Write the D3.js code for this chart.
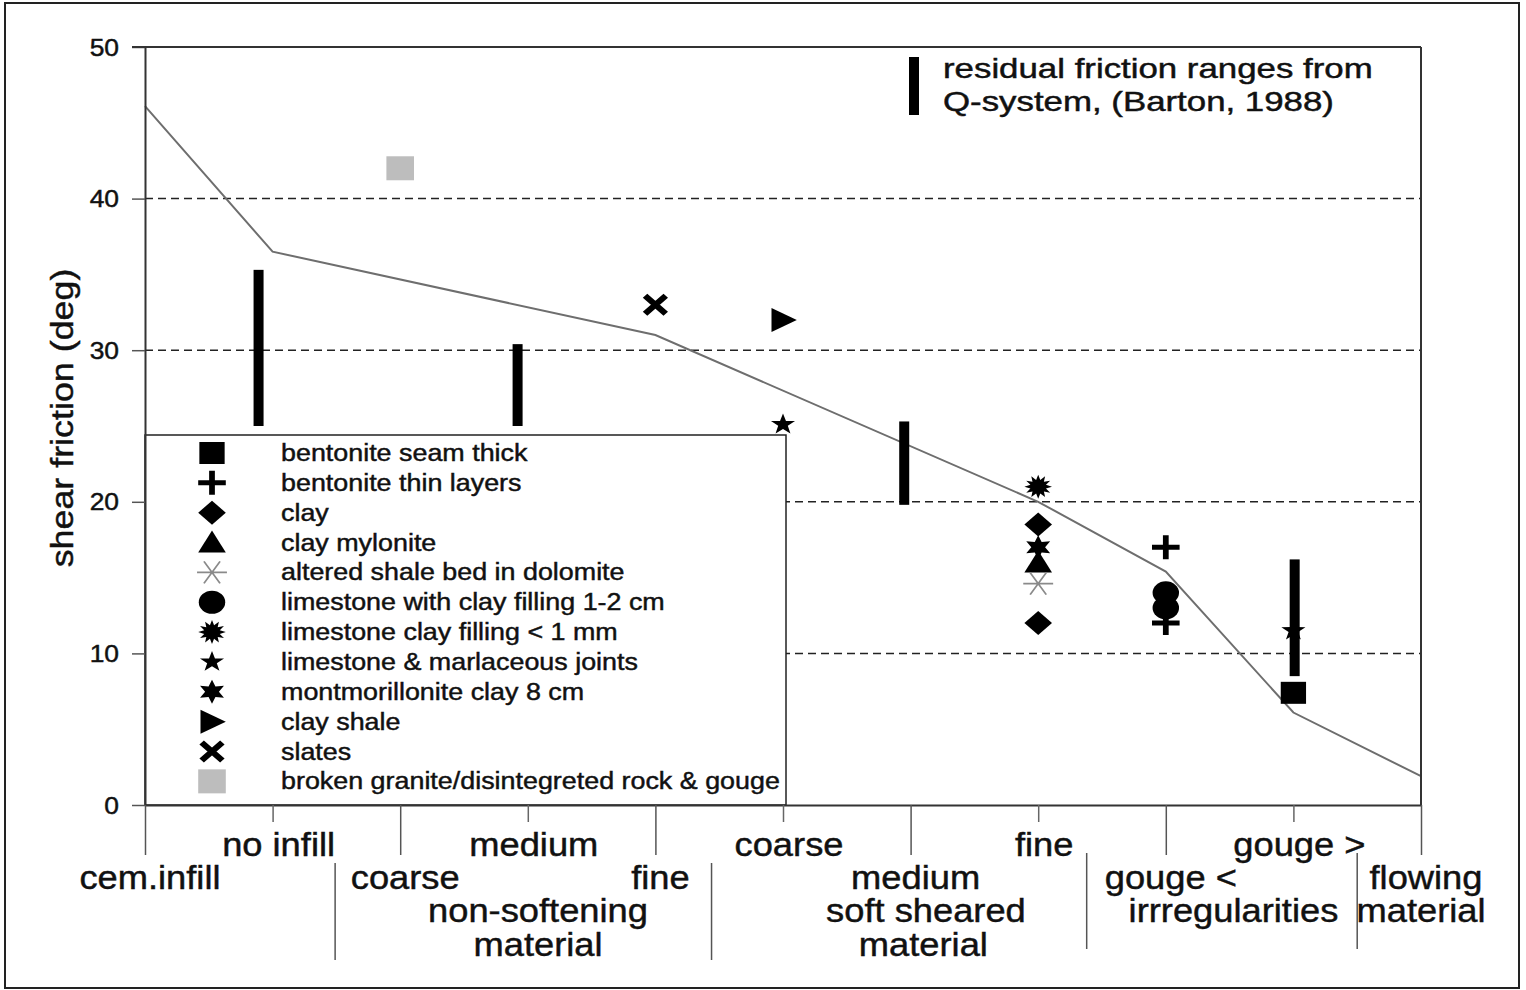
<!DOCTYPE html>
<html><head><meta charset="utf-8">
<script src="https://cdn.jsdelivr.net/npm/d3@7"></script>
<style>html,body{margin:0;padding:0;background:#fff;} svg{display:block;}</style>
</head><body>
<svg id="chart" width="1526" height="990"></svg>
<script>
// ---------- data ----------
const yTicks = [0, 10, 20, 30, 40, 50];
const gridValues = [10, 20, 30, 40];
const majorTicks = [0, 2, 4, 6, 8, 10];
const minorTicks = [1, 3, 5, 7, 9];
const minorTickLabels = ["no infill", "medium", "coarse", "fine", "gouge >"];
const majorTickLabels = ["cem.infill", "coarse", "fine", "medium", "gouge <", "flowing"];
const groupLabelText = ["non-softening", "material", "soft sheared", "material", "irrregularities", "material"];
const groupLabelCat = [3.08, 3.08, 6.12, 6.10, 8.53, 10.0];
const groupLabelRow = [2, 3, 2, 3, 2, 2];
const groupDividers = [1.49, 4.44, 7.38, 9.50];

const trendX = [0, 1, 4, 7, 8, 9, 10];
const trendY = [46.1, 36.5, 31.0, 20.0, 15.4, 6.1, 1.9];

const rangeCat = [0.89, 2.92, 5.95, 9.01];
const rangeLow = [25.0, 25.0, 19.8, 8.5];
const rangeHigh = [35.3, 30.4, 25.3, 16.2];

const seriesNames = [
  "bentonite seam thick", "bentonite thin layers", "clay", "clay mylonite",
  "altered shale bed in dolomite", "limestone with clay filling 1-2 cm",
  "limestone clay filling < 1 mm", "limestone & marlaceous joints",
  "montmorillonite clay 8 cm", "clay shale", "slates",
  "broken granite/disintegreted rock & gouge"
];
const seriesSymbols = ["square", "plus", "diamond", "triangle", "asterisk", "circle",
  "burst", "star", "hexagram", "triangleRight", "cross", "squareGray"];
const bentoniteSeamThick = [[9, 7.4]];
const bentoniteThinLayers = [[8, 17.0], [8, 12.0]];
const clay = [[7, 18.5], [7, 12.0]];
const clayMylonite = [[7, 16.0]];
const alteredShale = [[7, 14.6]];
const limestoneClay12cm = [[8, 14.0], [8, 13.0]];
const limestoneClay1mm = [[7, 21.0]];
const limestoneMarlaceous = [[5, 25.1], [9, 11.5]];
const montmorillonite = [[7, 17.0]];
const clayShale = [[5, 32.0]];
const slates = [[4, 33.0]];
const brokenGranite = [[2, 42.0]];
const seriesValues = [bentoniteSeamThick, bentoniteThinLayers, clay, clayMylonite, alteredShale,
  limestoneClay12cm, limestoneClay1mm, limestoneMarlaceous, montmorillonite, clayShale, slates, brokenGranite];

const qLegendLines = ["residual friction ranges from", "Q-system, (Barton, 1988)"];
const yAxisTitle = "shear friction (deg)";

// ---------- layout ----------
const FONT = "'Liberation Sans', Arial, Helvetica, sans-serif";
const svg = d3.select("#chart");
const x = d3.scaleLinear().domain([0, 10]).range([145, 1421]);
const y = d3.scaleLinear().domain([0, 50]).range([805, 47]);
const SX = 1.15;

function stext(g, px, py, str, size, sx, anchor, rot) {
  return g.append("text")
    .attr("transform", `translate(${px},${py})` + (rot ? ` rotate(${rot})` : "") + ` scale(${sx},1)`)
    .attr("font-size", size).attr("font-family", FONT).attr("fill", "#111")
    .attr("stroke", "#111").attr("stroke-width", 0.45)
    .attr("text-anchor", anchor || "start").text(str);
}
function starPath(n, ro, ri) {
  const p = [];
  for (let i = 0; i < 2 * n; i++) {
    const r = i % 2 ? ri : ro, a = i * Math.PI / n;
    p.push((r * Math.sin(a)).toFixed(2) + "," + (-r * Math.cos(a)).toFixed(2));
  }
  return "M" + p.join("L") + "Z";
}
const SYM = {
  square: { d: "M-11,-11H11V11H-11Z", fill: "#000" },
  squareGray: { d: "M-12,-12H12V12H-12Z", fill: "#bdbdbd" },
  plus: { d: "M0,-12V12M-12,0H12", stroke: "#000", sw: 5 },
  diamond: { d: "M0,-12L12,0L0,12L-12,0Z", fill: "#000" },
  triangle: { d: "M0,-12L12,10L-12,10Z", fill: "#000" },
  asterisk: { d: "M-13,0H13M-7,-11L7,11M7,-11L-7,11", stroke: "#8a8a8a", sw: 1.6 },
  circle: { d: "M11.5,0A11.5,11.5 0 1,1 -11.5,0A11.5,11.5 0 1,1 11.5,0Z", fill: "#000" },
  burst: { d: starPath(12, 12, 7), fill: "#000" },
  star: { d: starPath(5, 11, 4.4), fill: "#000" },
  hexagram: { d: starPath(6, 12, 6), fill: "#000" },
  triangleRight: { d: "M-10,-12L12,0L-10,12Z", fill: "#000" },
  cross: { d: "M-9,-9L9,9M9,-9L-9,9", stroke: "#000", sw: 5.5 }
};
function drawSym(g, type, px, py) {
  const s = SYM[type];
  g.append("path").attr("d", s.d)
    .attr("transform", `translate(${px},${py}) scale(${SX},1)`)
    .attr("fill", s.fill || "none")
    .attr("stroke", s.stroke || "none")
    .attr("stroke-width", s.sw || 0);
}

// outer frame
svg.append("rect").attr("x", 5).attr("y", 3).attr("width", 1514).attr("height", 985)
  .attr("fill", "none").attr("stroke", "#222").attr("stroke-width", 2);

// gridlines
svg.append("g").selectAll("line").data(gridValues).join("line")
  .attr("x1", x(0)).attr("x2", x(10)).attr("y1", d => y(d)).attr("y2", d => y(d))
  .attr("stroke", "#222").attr("stroke-width", 1.5).attr("stroke-dasharray", "8,5");

// trend curve
const line = d3.line().x(d => x(d[0])).y(d => y(d[1]));
svg.append("path").datum(trendX.map((v, i) => [v, trendY[i]])).attr("d", line)
  .attr("fill", "none").attr("stroke", "#6e6e6e").attr("stroke-width", 2);

// residual ranges
svg.append("g").selectAll("rect").data(rangeCat).join("rect")
  .attr("x", d => x(d) - 5).attr("width", 10)
  .attr("y", (d, i) => y(rangeHigh[i])).attr("height", (d, i) => y(rangeLow[i]) - y(rangeHigh[i]))
  .attr("fill", "#000");

// points
const gp = svg.append("g");
seriesValues.forEach((arr, i) => arr.forEach(p => drawSym(gp, seriesSymbols[i], x(p[0]), y(p[1]))));

// legend box
const gl = svg.append("g");
gl.append("rect").attr("x", 145).attr("y", 435).attr("width", 641).attr("height", 370)
  .attr("fill", "#fff").attr("stroke", "#222").attr("stroke-width", 1.5);
seriesNames.forEach((nm, i) => {
  const by = 461 + i * 29.85;
  drawSym(gl, seriesSymbols[i], 212, by - 8);
  stext(gl, 281, by, nm, 24, 1.12, "start");
});

// top legend (Q-system)
svg.append("rect").attr("x", 909).attr("y", 57).attr("width", 10).attr("height", 58).attr("fill", "#000");
qLegendLines.forEach((t, i) => stext(svg, 943, 78 + i * 33, t, 27, 1.29, "start"));

// axes
const ga = svg.append("g");
ga.append("g").attr("transform", `translate(${x(0)},0)`)
  .call(d3.axisLeft(y).tickValues(yTicks).tickSize(13).tickFormat("").tickSizeOuter(0))
  .call(g => g.select(".domain").attr("stroke", "#333").attr("stroke-width", 2))
  .call(g => g.selectAll(".tick line").attr("stroke", "#555").attr("stroke-width", 1.5));
ga.append("g").attr("transform", `translate(0,${y(0)})`)
  .call(d3.axisBottom(x).tickValues(majorTicks).tickSize(50).tickFormat("").tickSizeOuter(0))
  .call(g => g.select(".domain").attr("stroke", "#333").attr("stroke-width", 2))
  .call(g => g.selectAll(".tick line").attr("stroke", "#555").attr("stroke-width", 1.5));
ga.append("g").attr("transform", `translate(0,${y(0)})`)
  .call(d3.axisBottom(x).tickValues(minorTicks).tickSize(17).tickFormat("").tickSizeOuter(0))
  .call(g => g.select(".domain").remove())
  .call(g => g.selectAll(".tick line").attr("stroke", "#666").attr("stroke-width", 1.5));
// top & right border
ga.append("line").attr("x1", 132).attr("x2", x(10)).attr("y1", y(50)).attr("y2", y(50))
  .attr("stroke", "#333").attr("stroke-width", 2);
ga.append("line").attr("x1", x(10)).attr("x2", x(10)).attr("y1", y(50)).attr("y2", y(0))
  .attr("stroke", "#333").attr("stroke-width", 2);

// y tick labels
yTicks.forEach(v => stext(svg, 119, y(v) + 8.5, String(v), 24, 1.1, "end"));
// y title
stext(svg, 73, 418, yAxisTitle, 32, 1.12, "middle", -90);

// x labels
const rowBase = [856, 889, 922, 956];
minorTicks.forEach((t, i) => stext(svg, x(t) + 6, rowBase[0], minorTickLabels[i], 33, 1.1, "middle"));
majorTicks.forEach((t, i) => stext(svg, x(t) + 5, rowBase[1], majorTickLabels[i], 33, 1.1, "middle"));
groupLabelText.forEach((t, i) => stext(svg, x(groupLabelCat[i]), rowBase[groupLabelRow[i]], t, 33, 1.1, "middle"));
// group dividers
svg.append("g").selectAll("line").data(groupDividers).join("line")
  .attr("x1", d => x(d)).attr("x2", d => x(d))
  .attr("y1", (d, i) => i < 2 ? 863 : 853).attr("y2", (d, i) => i < 2 ? 960 : 949)
  .attr("stroke", "#555").attr("stroke-width", 1.5);
</script>
</body></html>
